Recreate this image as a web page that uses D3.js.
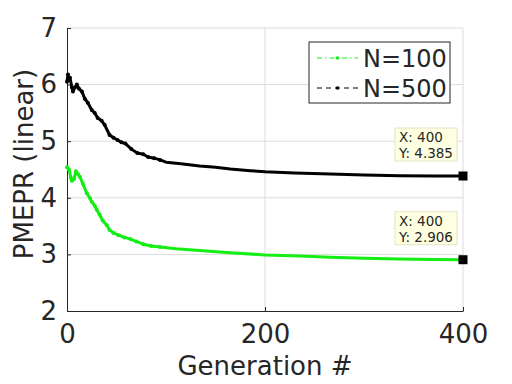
<!doctype html>
<html>
<head>
<meta charset="utf-8">
<title>PMEPR</title>
<style>
body { margin: 0; background: #fff; }
text { font-family: "DejaVu Sans", sans-serif; fill: #262626; }
</style>
<script src="https://cdn.jsdelivr.net/npm/d3@7"></script>
</head>
<body>
<script>
// N=500 (black)
var genN500 = [0, 1, 2, 3, 5, 6, 8, 10, 12, 15, 18, 21, 25, 28, 31, 35, 38, 43, 47, 51, 55, 59, 65, 71, 77, 82, 88, 94, 100, 115, 134, 150, 165, 185, 200, 230, 266, 300, 336, 370, 400];
var valN500 = [6.05, 6.18, 6.08, 6.12, 5.95, 5.88, 5.95, 6.0, 5.93, 5.88, 5.75, 5.68, 5.55, 5.5, 5.41, 5.36, 5.29, 5.11, 5.06, 5.02, 4.98, 4.96, 4.86, 4.79, 4.77, 4.72, 4.7, 4.67, 4.63, 4.6, 4.56, 4.54, 4.51, 4.48, 4.46, 4.44, 4.42, 4.405, 4.39, 4.387, 4.385];
// N=100 (green)
var genN100 = [0, 2, 4, 5, 7, 9, 11, 13, 16, 20, 23, 25, 28, 30, 33, 36, 40, 43, 47, 52, 58, 64, 70, 77, 85, 94, 110, 134, 165, 200, 235, 266, 300, 336, 370, 400];
var valN100 = [4.54, 4.5, 4.35, 4.3, 4.33, 4.47, 4.42, 4.37, 4.25, 4.08, 4.0, 3.93, 3.86, 3.79, 3.7, 3.6, 3.52, 3.43, 3.38, 3.34, 3.3, 3.27, 3.23, 3.18, 3.15, 3.13, 3.1, 3.07, 3.03, 2.99, 2.97, 2.95, 2.93, 2.92, 2.91, 2.906];

var xTicks = [0, 200, 400];
var yTicks = [2, 3, 4, 5, 6, 7];
var seriesNames = ["N=100", "N=500"];
var seriesColors = ["#14ee14", "#000000"];
var tips = [{x: 400, y: 4.385}, {x: 400, y: 2.906}];

var W = 512, H = 384;
var m = {left: 67, right: 49, top: 28, bottom: 73};

var svg = d3.select("body").append("svg")
    .attr("width", W)
    .attr("height", H);

var x = d3.scaleLinear().domain([0, 400]).range([m.left, W - m.right]);
var y = d3.scaleLinear().domain([2, 7]).range([H - m.bottom, m.top]);

// grid
svg.append("g").selectAll("line").data(yTicks.slice(1)).enter().append("line")
    .attr("x1", x(0)).attr("x2", x(400))
    .attr("y1", function(d) { return y(d); }).attr("y2", function(d) { return y(d); })
    .attr("stroke", "#dcdcdc").attr("stroke-width", 1);
svg.append("g").selectAll("line").data(xTicks.slice(1)).enter().append("line")
    .attr("x1", function(d) { return x(d); }).attr("x2", function(d) { return x(d); })
    .attr("y1", y(2)).attr("y2", y(7))
    .attr("stroke", "#dcdcdc").attr("stroke-width", 1);

// axes
var xAxis = svg.append("g")
    .attr("transform", "translate(0," + y(2) + ")")
    .call(d3.axisBottom(x).tickValues(xTicks).tickFormat(d3.format("d")).tickSizeInner(-4).tickSizeOuter(0).tickPadding(8));
var yAxis = svg.append("g")
    .attr("transform", "translate(" + x(0) + ",0)")
    .call(d3.axisLeft(y).tickValues(yTicks).tickFormat(d3.format("d")).tickSizeInner(-4).tickSizeOuter(0).tickPadding(10));
[xAxis, yAxis].forEach(function(g) {
    g.select(".domain").attr("stroke", "#262626");
    g.selectAll(".tick line").attr("stroke", "#262626");
    g.selectAll("text").attr("font-family", "DejaVu Sans").attr("font-size", 26).attr("fill", "#262626");
});
xAxis.selectAll("text").attr("dy", null).attr("y", 32);

// labels
svg.append("text")
    .attr("x", x(200)).attr("y", 375)
    .attr("text-anchor", "middle").attr("font-size", 26)
    .text("Generation #");
svg.append("text")
    .attr("transform", "translate(33," + 164 + ") rotate(-90)")
    .attr("text-anchor", "middle").attr("font-size", 26)
    .text("PMEPR (linear)");

// lines
var line = d3.line().x(function(d) { return x(d[0]); }).y(function(d) { return y(d[1]); });
var series = [
    {name: seriesNames[0], color: seriesColors[0], data: d3.zip(genN100, valN100)},
    {name: seriesNames[1], color: seriesColors[1], data: d3.zip(genN500, valN500)}
];
series.forEach(function(s) {
    svg.append("path")
        .datum(s.data)
        .attr("d", line)
        .attr("fill", "none")
        .attr("stroke", s.color)
        .attr("stroke-width", 3)
        .attr("stroke-linejoin", "round");
    svg.append("g").selectAll("circle")
        .data(s.data.filter(function(d) { return d[0] < 100; }))
        .enter().append("circle")
        .attr("cx", function(d) { return x(d[0]); })
        .attr("cy", function(d) { return y(d[1]); })
        .attr("r", 2)
        .attr("fill", s.color);
});

// data tips
tips.forEach(function(t) {
    var px = x(t.x), py = y(t.y);
    svg.append("rect")
        .attr("x", px - 4.5).attr("y", py - 4.5)
        .attr("width", 9).attr("height", 9)
        .attr("fill", "#000");
    var g = svg.append("g").attr("transform", "translate(" + (px - 68) + "," + (py - 48) + ")");
    g.append("rect")
        .attr("width", 62).attr("height", 33)
        .attr("fill", "#ffffe1").attr("stroke", "#e2e2c8");
    g.append("text").attr("x", 4).attr("y", 14).attr("font-size", 13.5).attr("fill", "#222").text("X: " + t.x);
    g.append("text").attr("x", 4).attr("y", 30).attr("font-size", 13.5).attr("fill", "#222").text("Y: " + t.y);
});

// legend
var lg = svg.append("g").attr("transform", "translate(309,42)");
lg.append("rect")
    .attr("width", 141).attr("height", 61)
    .attr("fill", "#fff").attr("stroke", "#262626").attr("stroke-width", 1);
var dashes = ["5,3,1.5,3", "5,4"];
series.forEach(function(s, i) {
    var ly = 16 + i * 30;
    lg.append("line")
        .attr("x1", 8).attr("x2", 49)
        .attr("y1", ly).attr("y2", ly)
        .attr("stroke", s.color).attr("stroke-width", 1)
        .attr("stroke-dasharray", dashes[i]);
    lg.append("circle").attr("cx", 28.5).attr("cy", ly).attr("r", 1.8).attr("fill", s.color);
    lg.append("text")
        .attr("x", 54).attr("y", ly + 9)
        .attr("font-size", 24)
        .attr("fill", "#000")
        .text(s.name);
});
</script>
</body>
</html>
